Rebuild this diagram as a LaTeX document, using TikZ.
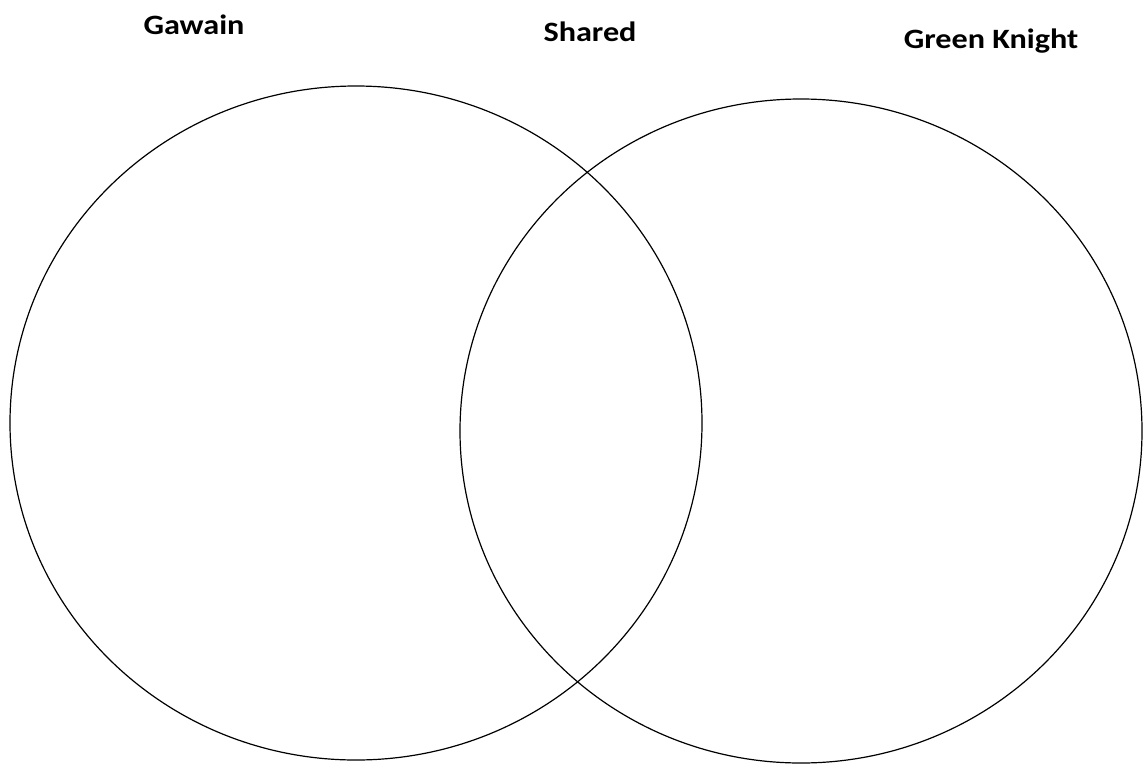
\documentclass[tikz,border=0pt]{standalone}
\usepackage{fontspec}
\setmainfont{Carlito}
\begin{document}
\begin{tikzpicture}[x=1pt,y=-1pt,
  title/.style={font=\fontsize{28}{32}\selectfont\bfseries, anchor=base, inner sep=0pt, xscale=1.15},
  ring/.style={draw=black, line width=1.2pt}]
\useasboundingbox (0,0) rectangle (1143,763);
\fill[white] (0,0) rectangle (1143,763);
\draw[ring] (356,423) ellipse [x radius=346, y radius=337];
\draw[ring] (801,431) ellipse [x radius=341, y radius=332];
\node[title] (gawain) at (194,34) {Gawain};
\node[title] (shared) at (590,41) {Shared};
\node[title] (knight) at (991,48) {Green Knight};
\end{tikzpicture}
\end{document}
